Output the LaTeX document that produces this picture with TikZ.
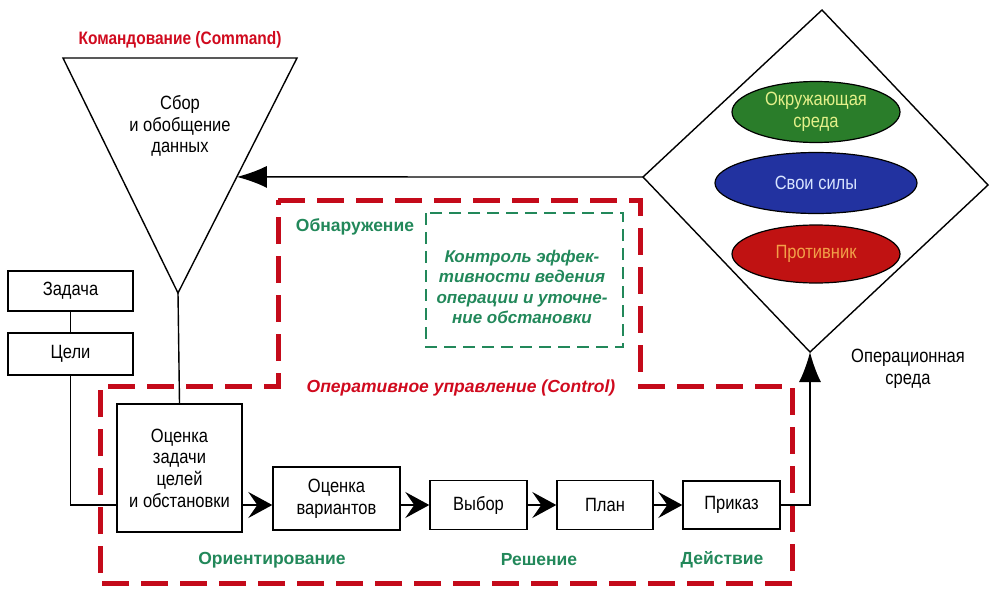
\documentclass[tikz,border=0pt]{standalone}
\usepackage{fontspec}
\setmainfont{Liberation Sans}[FakeStretch=0.86]
\newfontfamily\wide{Liberation Sans}
\usetikzlibrary{arrows.meta,shapes.geometric,calc}
\definecolor{cred}{HTML}{D00A1E}
\definecolor{dred}{HTML}{C40A1A}
\definecolor{cgreen}{HTML}{22885A}
\definecolor{egreen}{HTML}{2A7D2A}
\definecolor{eblue}{HTML}{2232A0}
\definecolor{ered}{HTML}{C01212}
\definecolor{tgreen}{HTML}{E4F08A}
\definecolor{tblue}{HTML}{D8E4FF}
\definecolor{tred}{HTML}{F2A048}
\newcommand{\fs}{\fontsize{19.2}{21.7}\selectfont}
\newcommand{\fb}{\wide\fontsize{17.5}{21}\selectfont\bfseries}
\begin{document}
\begin{tikzpicture}[x=1pt,y=-1pt,
  box/.style={draw, line width=1.4pt, inner sep=0pt, align=center, font=\fs},
  arr/.style={line width=1.4pt, -{Latex[length=30pt,width=22pt]}},
  flow/.style={line width=1.4pt, -{Stealth[length=24pt,width=26pt,inset=9pt]}},
  plain/.style={line width=1.4pt},
  ell/.style={ellipse, draw=black, line width=1.2pt, inner sep=0pt, font=\fs, align=center},
  reddash/.style={draw=dred, line width=5pt, dash pattern=on 27pt off 12pt, line join=miter},
  greendash/.style={draw=cgreen, line width=2.5pt, dash pattern=on 12pt off 7pt},
  greenlbl/.style={text=cgreen, font=\fb},
  txt/.style={font=\fs, align=center, inner sep=0pt}
]
\useasboundingbox (0,0) rectangle (990,589);

% title
\node[text=cred, font=\fontsize{18}{21}\selectfont\bfseries] (title) at (180,40) {Командование (Command)};

% triangle
\coordinate (tl) at (63,58);
\coordinate (tr) at (297,58);
\coordinate (ap) at (178,293);
\draw[plain, line join=miter] (tl) -- (tr) -- (ap) -- cycle;
\node[txt] (sbor) at (180,126) {Сбор\\и обобщение\\данных};
\coordinate (tedge) at ($(tr)!0.506!(ap)$);

% diamond
\coordinate (dt) at (822,10);
\coordinate (dl) at (643,177);
\coordinate (db) at (810,352);
\coordinate (dr) at (988,185);
\draw[plain, line join=miter] (dt) -- (dr) -- (db) -- (dl) -- cycle;

\node[ell, fill=egreen, text=tgreen, minimum width=168pt, minimum height=61pt] (env) at (816,112) {Окружающая\\среда};
\node[ell, fill=eblue, text=tblue, minimum width=202pt, minimum height=61pt] (own) at (816,183) {Свои силы};
\node[ell, fill=ered, text=tred, minimum width=168pt, minimum height=58pt] (enemy) at (816,254) {Противник};

\node[txt] (opsr) at (908,369) {Операционная\\среда};

% red dashed control region
\draw[reddash] (278,200) -- (640,200) -- (640,386) -- (792,386) -- (792,583) -- (100,583) -- (100,386) -- (278,386) -- cycle;
\node[text=cred, font=\wide\fontsize{17.5}{21}\selectfont\bfseries\itshape] (ctrl) at (461,388) {Оперативное управление (Control)};

% green dashed box
\draw[greendash] (426,213) rectangle (623,347);
\node[text=cgreen, font=\wide\fontsize{17}{20.5}\selectfont\bfseries\itshape, align=center, inner sep=0pt] (kontrol) at (522,287) {Контроль эффек-\\тивности ведения\\операции и уточне-\\ние обстановки};
\node[greenlbl] (obn) at (355,227) {Обнаружение};

% boxes
\node[box, minimum width=125pt, minimum height=40pt] (zad) at (70.5,291) {Задача};
\node[box, minimum width=125pt, minimum height=42pt] (cel) at (70.5,354) {Цели};
\node[box, minimum width=125pt, minimum height=128pt] (ocz) at (179.5,468) {Оценка\\задачи\\целей\\и обстановки};
\node[box, minimum width=127pt, minimum height=63pt] (ocv) at (336.5,498.5) {Оценка\\вариантов};
\node[box, minimum width=97pt, minimum height=49pt] (vyb) at (478.5,505) {Выбор};
\node[box, minimum width=96pt, minimum height=49pt] (plan) at (605,505) {План};
\node[box, minimum width=97pt, minimum height=48pt] (prik) at (731.5,505) {Приказ};

\node[greenlbl] (orient) at (272,560) {Ориентирование};
\node[greenlbl] (resh) at (539,560) {Решение};
\node[greenlbl] (deyst) at (722,560) {Действие};

% connectors
\draw[plain] (zad.south) -- (cel.north);
\draw[plain] (cel.south) |- (ocz.west |- vyb.west);
\draw[plain] (ap) -- (ocz.north);
\draw[flow] (ocz.east |- vyb.west) -- (ocv.west |- vyb.west);
\draw[flow] (ocv.east |- vyb.west) -- (vyb.west);
\draw[flow] (vyb.east) -- (plan.west);
\draw[flow] (plan.east) -- (prik.west);
\draw[arr] (prik.east) -| (db);
\draw[arr] (dl) -- (tedge);
\end{tikzpicture}
\end{document}
